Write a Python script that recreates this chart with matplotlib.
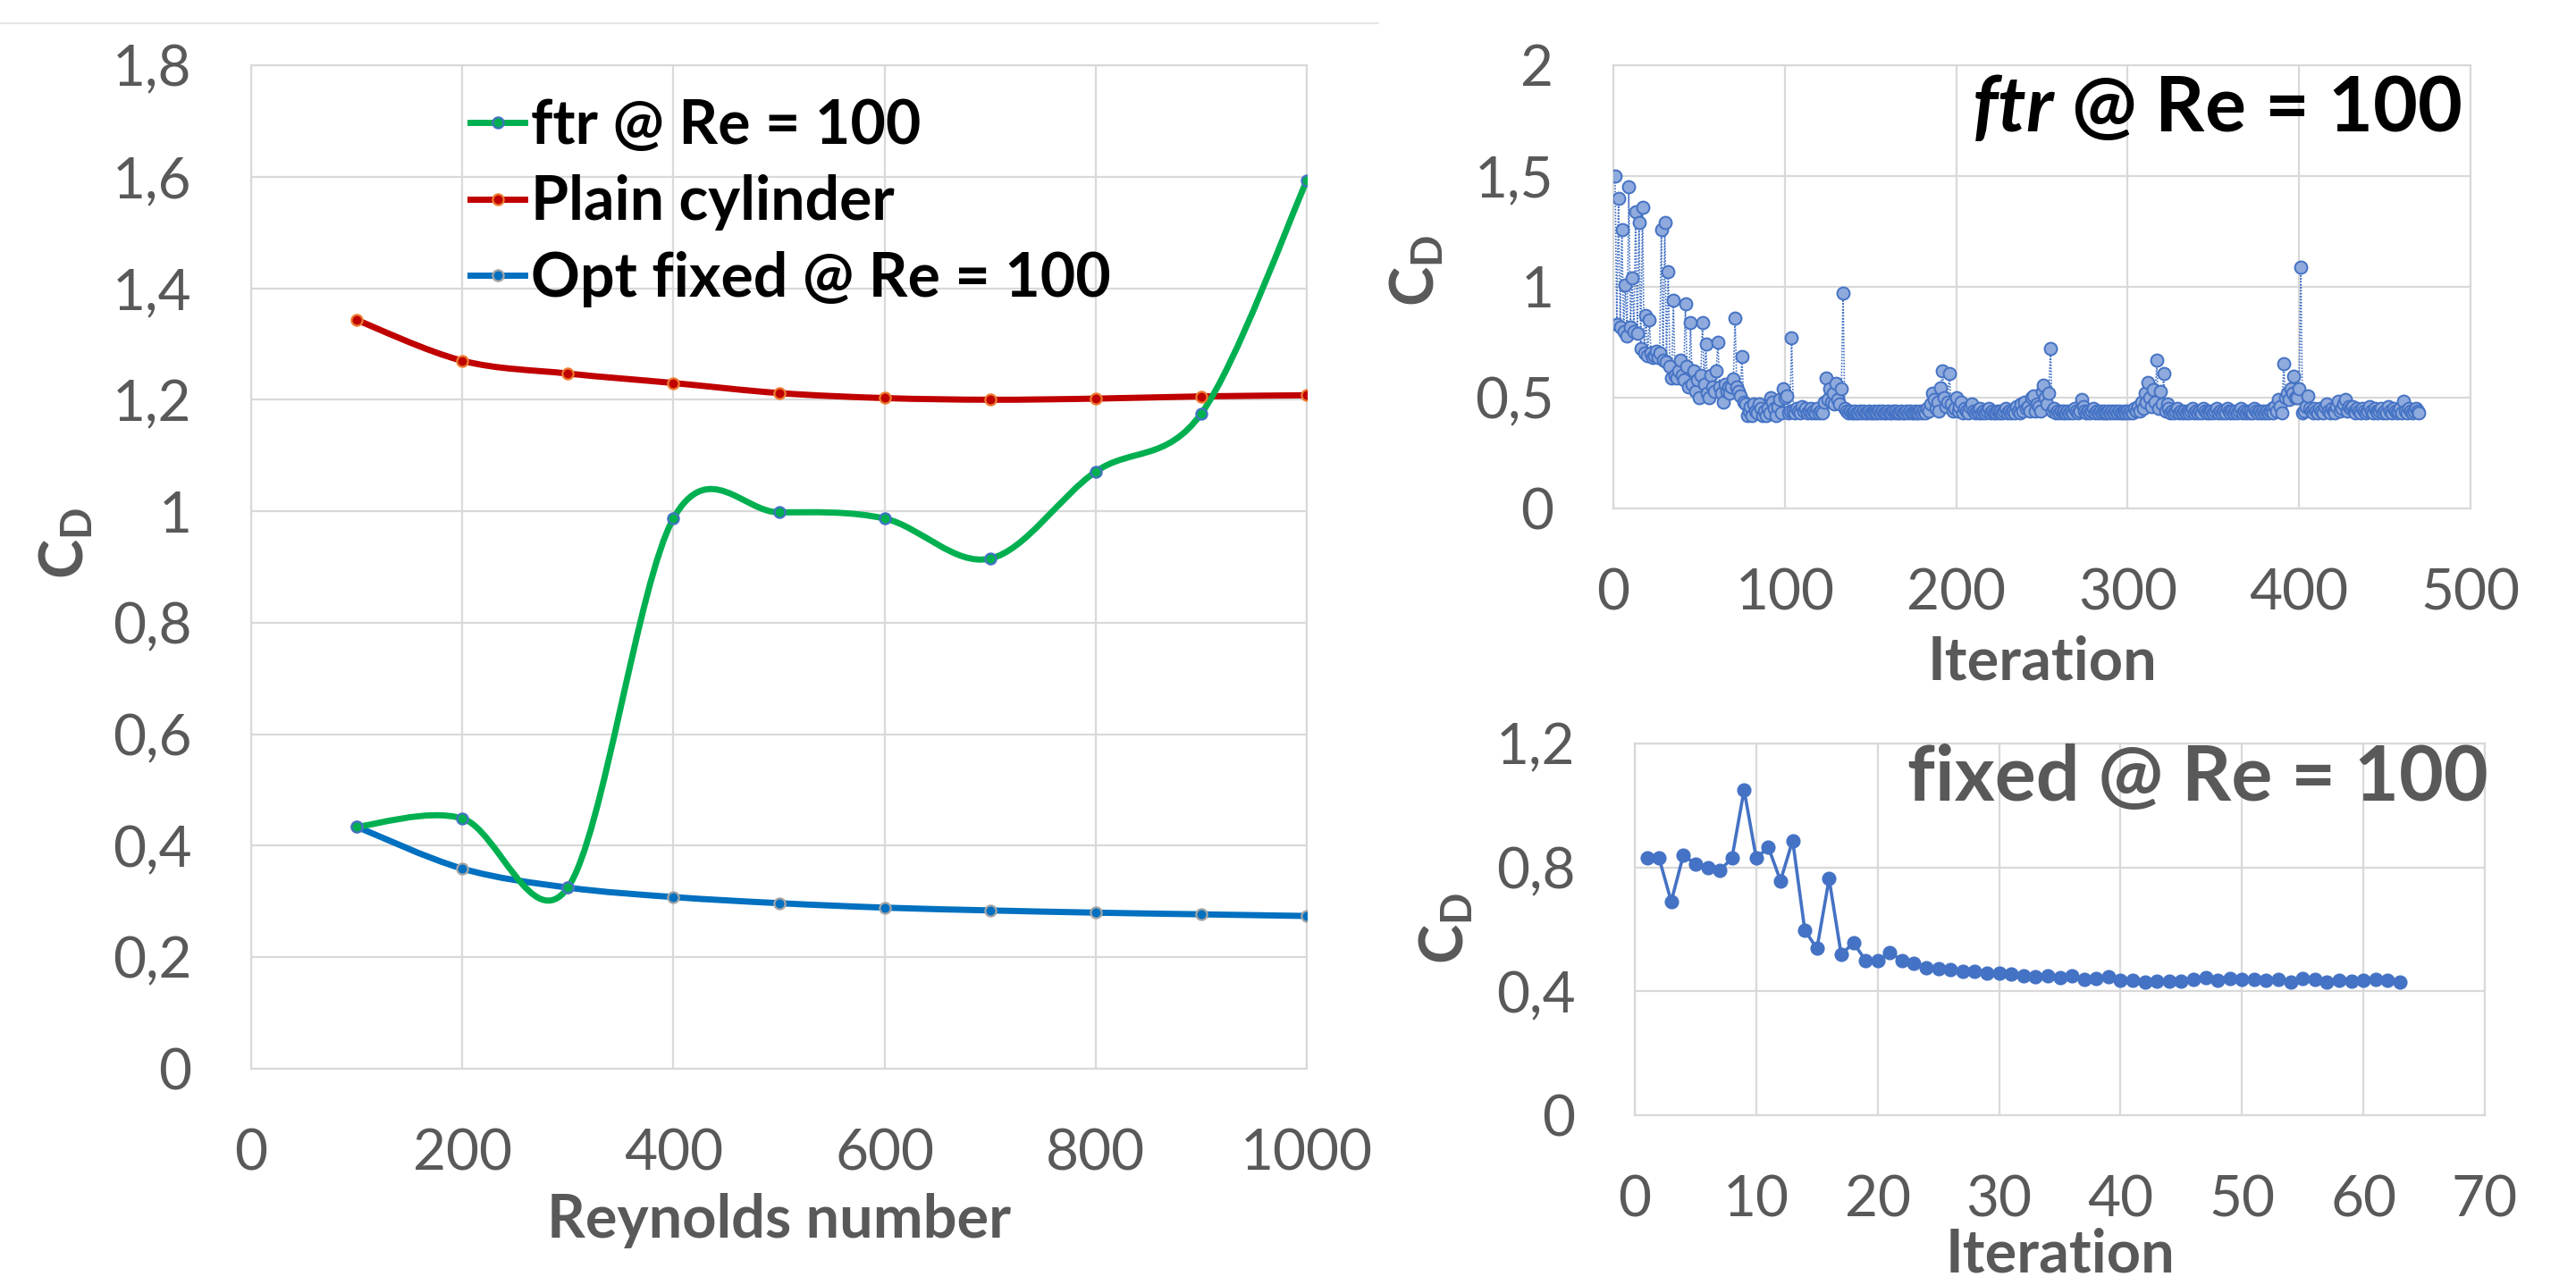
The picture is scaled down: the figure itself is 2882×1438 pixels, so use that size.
import numpy as np
import matplotlib
matplotlib.use("Agg")
import matplotlib.pyplot as plt
import matplotlib.ticker as ticker
from matplotlib.path import Path
from matplotlib.patches import PathPatch
from matplotlib.lines import Line2D
from matplotlib.font_manager import FontProperties

plt.rcParams["font.family"] = ["Lato", "DejaVu Sans"]
plt.rcParams["mathtext.fontset"] = "custom"
plt.rcParams["mathtext.rm"] = "Lato"
plt.rcParams["mathtext.bf"] = "Lato:bold"
plt.rcParams["mathtext.bfit"] = "Lato:italic:bold"

# ── data: left panel (CD vs Reynolds number) ─────────────────────────────────
reynolds = [100, 200, 300, 400, 500, 600, 700, 800, 900, 1000]
cd_ftr   = [0.434, 0.449, 0.325, 0.987, 0.998, 0.987, 0.915, 1.071, 1.175, 1.593]
cd_plain = [1.343, 1.270, 1.247, 1.230, 1.212, 1.203, 1.200, 1.202, 1.206, 1.208]
cd_fixed = [0.434, 0.359, 0.325, 0.308, 0.297, 0.289, 0.284, 0.280, 0.277, 0.274]

# ── data: top right (ftr optimisation history) ──────────────────────────────
ftr_hist = [
    1.50, 0.83, 1.40, 0.82, 1.26, 0.80, 1.01, 0.78, 1.45, 0.82,
    1.04, 0.80, 1.34, 0.79, 1.29, 0.72, 1.36, 0.70, 0.87, 0.69,
    0.85, 0.70, 0.68, 0.69, 0.71, 0.68, 0.70, 1.26, 0.67, 1.29,
    0.66, 1.07, 0.64, 0.59, 0.94, 0.60, 0.59, 0.62, 0.67, 0.60,
    0.58, 0.925, 0.64, 0.55, 0.84, 0.56, 0.62, 0.53, 0.58, 0.50,
    0.60, 0.84, 0.56, 0.74, 0.52, 0.50, 0.60, 0.55, 0.53, 0.62,
    0.75, 0.55, 0.52, 0.48, 0.56, 0.53, 0.55, 0.52, 0.55, 0.585,
    0.86, 0.55, 0.53, 0.51, 0.685, 0.48, 0.47, 0.42, 0.44, 0.46,
    0.42, 0.47, 0.44, 0.43, 0.47, 0.45, 0.42, 0.44, 0.42, 0.45,
    0.43, 0.50, 0.48, 0.45, 0.42, 0.46, 0.49, 0.43, 0.54, 0.50,
    0.51, 0.43, 0.44, 0.77, 0.44, 0.43, 0.45, 0.44, 0.43, 0.46,
    0.44, 0.45, 0.43, 0.44, 0.45, 0.43, 0.44, 0.43, 0.45, 0.43,
    0.44, 0.43, 0.48, 0.59, 0.49, 0.54, 0.48, 0.52, 0.47, 0.565,
    0.49, 0.47, 0.54, 0.97, 0.45, 0.44, 0.43, 0.44, 0.43, 0.43,
    0.44, 0.43, 0.43, 0.44, 0.43, 0.44, 0.43, 0.43, 0.44, 0.43,
    0.43, 0.44, 0.43, 0.43, 0.44, 0.43, 0.44, 0.43, 0.43, 0.44,
    0.43, 0.43, 0.44, 0.43, 0.44, 0.43, 0.43, 0.44, 0.43, 0.43,
    0.44, 0.43, 0.44, 0.43, 0.43, 0.44, 0.43, 0.43, 0.44, 0.43,
    0.44, 0.43, 0.45, 0.44, 0.47, 0.52, 0.49, 0.45, 0.48, 0.44,
    0.545, 0.62, 0.50, 0.46, 0.48, 0.61, 0.47, 0.44, 0.45, 0.50,
    0.44, 0.46, 0.48, 0.43, 0.45, 0.44, 0.43, 0.46, 0.47, 0.44,
    0.43, 0.44, 0.43, 0.45, 0.43, 0.44, 0.43, 0.44, 0.45, 0.43,
    0.44, 0.43, 0.43, 0.44, 0.43, 0.44, 0.43, 0.44, 0.45, 0.43,
    0.44, 0.43, 0.44, 0.43, 0.46, 0.44, 0.43, 0.47, 0.44, 0.48,
    0.45, 0.46, 0.44, 0.50, 0.51, 0.44, 0.47, 0.46, 0.44, 0.53,
    0.555, 0.50, 0.47, 0.52, 0.72, 0.44, 0.45, 0.43, 0.44, 0.43,
    0.44, 0.43, 0.44, 0.43, 0.44, 0.43, 0.44, 0.43, 0.45, 0.44,
    0.43, 0.44, 0.49, 0.46, 0.44, 0.43, 0.44, 0.43, 0.44, 0.45,
    0.43, 0.44, 0.43, 0.44, 0.43, 0.44, 0.43, 0.43, 0.44, 0.43,
    0.44, 0.43, 0.44, 0.43, 0.44, 0.43, 0.43, 0.44, 0.43, 0.44,
    0.43, 0.44, 0.43, 0.45, 0.44, 0.46, 0.44, 0.48, 0.45, 0.52,
    0.48, 0.57, 0.50, 0.46, 0.535, 0.48, 0.67, 0.45, 0.53, 0.47,
    0.61, 0.44, 0.47, 0.45, 0.43, 0.44, 0.43, 0.44, 0.45, 0.43,
    0.44, 0.43, 0.44, 0.43, 0.44, 0.43, 0.44, 0.45, 0.43, 0.44,
    0.43, 0.44, 0.43, 0.45, 0.44, 0.43, 0.44, 0.43, 0.44, 0.43,
    0.44, 0.45, 0.43, 0.44, 0.43, 0.44, 0.43, 0.45, 0.44, 0.43,
    0.44, 0.43, 0.44, 0.43, 0.44, 0.45, 0.43, 0.44, 0.43, 0.44,
    0.43, 0.44, 0.43, 0.45, 0.44, 0.43, 0.44, 0.43, 0.44, 0.43,
    0.44, 0.43, 0.44, 0.45, 0.43, 0.46, 0.44, 0.49, 0.46, 0.43,
    0.655, 0.50, 0.52, 0.49, 0.54, 0.52, 0.595, 0.50, 0.50, 0.54,
    1.09, 0.43, 0.44, 0.46, 0.51, 0.45, 0.44, 0.43, 0.45, 0.44,
    0.43, 0.45, 0.44, 0.43, 0.46, 0.47, 0.44, 0.43, 0.45, 0.44,
    0.43, 0.46, 0.485, 0.44, 0.45, 0.47, 0.49, 0.44, 0.46, 0.45,
    0.46, 0.44, 0.43, 0.45, 0.44, 0.43, 0.45, 0.44, 0.43, 0.44,
    0.46, 0.44, 0.43, 0.45, 0.44, 0.43, 0.44, 0.45, 0.43, 0.44,
    0.43, 0.46, 0.44, 0.43, 0.45, 0.44, 0.43, 0.44, 0.45, 0.43,
    0.485, 0.44, 0.43, 0.45, 0.44, 0.43, 0.44, 0.45, 0.44, 0.43,
]

# ── data: bottom right (fixed optimisation history) ─────────────────────────
fixed_hist = [
    0.83, 0.83, 0.69, 0.84, 0.81, 0.80, 0.79, 0.83, 1.05, 0.83,
    0.865, 0.757, 0.887, 0.597, 0.538, 0.763, 0.518, 0.557, 0.50, 0.50,
    0.525, 0.50, 0.49, 0.477, 0.473, 0.47, 0.463, 0.463, 0.459, 0.46,
    0.456, 0.451, 0.448, 0.451, 0.443, 0.451, 0.438, 0.441, 0.446, 0.435,
    0.437, 0.431, 0.434, 0.434, 0.434, 0.438, 0.444, 0.435, 0.441, 0.438,
    0.438, 0.435, 0.438, 0.431, 0.440, 0.438, 0.431, 0.435, 0.434, 0.437,
    0.438, 0.437, 0.431,
]

GRID  = "#D9D9D9"
TICK  = "#595959"
W, H  = 2882, 1438
DPI   = 200
TICK_FS  = 23
LABEL_FS = 24


def comma(v, pos):
    return f"{v:g}".replace(".", ",")


def excel_smooth(x, y):
    """Catmull-Rom style Bezier path, like Excel's 'smoothed line'."""
    p = np.column_stack([x, y]).astype(float)
    ext = np.vstack([p[0], p, p[-1]])
    verts = [p[0]]
    codes = [Path.MOVETO]
    for i in range(len(p) - 1):
        p0, p1, p2, p3 = ext[i], ext[i + 1], ext[i + 2], ext[i + 3]
        verts += [p1 + (p2 - p0) / 6, p2 - (p3 - p1) / 6, p2]
        codes += [Path.CURVE4] * 3
    return Path(verts, codes)


def style_axes(ax, pad=24):
    for s in ax.spines.values():
        s.set_color(GRID)
        s.set_linewidth(0.8)
    ax.grid(True, color=GRID, linewidth=0.8)
    ax.set_axisbelow(True)
    ax.tick_params(length=0, labelsize=TICK_FS, labelcolor=TICK, pad=pad)
    ax.yaxis.set_major_formatter(ticker.FuncFormatter(comma))


def put_labels(ax, xlab, xy, yxy):
    ax.set_xlabel(xlab, fontsize=LABEL_FS, fontweight="bold", color=TICK)
    ax.xaxis.set_label_coords(0.5, xy)
    ax.xaxis.label.set_va("center")
    ax.set_ylabel(r"$\mathbf{C_D}$", fontsize=LABEL_FS, color=TICK)
    ax.yaxis.set_label_coords(*yxy)
    ax.yaxis.label.set_va("center")


fig = plt.figure(figsize=(W / DPI, H / DPI), dpi=DPI)
fig.add_artist(Line2D([0, 0.535], [1 - 26 / H, 1 - 26 / H],
                      transform=fig.transFigure, color="#E6E6E6", lw=0.8))

# ── left panel ───────────────────────────────────────────────────────────────
ax = fig.add_axes([281 / W, 1 - 1196 / H, (1462 - 281) / W, (1196 - 73) / H])
style_axes(ax, pad=24)
ax.set_xlim(0, 1000)
ax.set_ylim(0, 1.8)
ax.xaxis.set_major_locator(ticker.MultipleLocator(200))
ax.yaxis.set_major_locator(ticker.MultipleLocator(0.2))

series = [
    (cd_ftr,   "#00B050", "#00B050", "#4472C4", "ftr @ Re = 100"),
    (cd_plain, "#C00000", "#C00000", "#ED7D31", "Plain cylinder"),
    (cd_fixed, "#0070C0", "#0070C0", "#A5A5A5", "Opt fixed @ Re = 100"),
]
for vals, lc, mfc, mec, lab in series[::-1]:
    ax.add_patch(PathPatch(excel_smooth(reynolds, vals), fill=False,
                           edgecolor=lc, lw=2.5, capstyle="round", zorder=3))
    ax.plot(reynolds, vals, "o", ms=4.4, mfc=mfc, mec=mec, mew=0.8, zorder=4)
handles = [Line2D([], [], color=lc, lw=2.5, marker="o", ms=4.4,
                  mfc=mfc, mec=mec, mew=0.8, label=lab)
           for vals, lc, mfc, mec, lab in series]
ax.legend(handles=handles, loc="upper left", bbox_to_anchor=(526 / W, 1 - 110 / H),
          bbox_transform=fig.transFigure, frameon=False,
          prop=FontProperties(family="Lato", weight="bold", size=24.5),
          handlelength=0.9, handletextpad=0.1, labelspacing=0.33,
          borderpad=0, borderaxespad=0)
put_labels(ax, "Reynolds number", -0.151, (-0.175, 0.524))

# ── top right: ftr history ──────────────────────────────────────────────────
ax2 = fig.add_axes([1805 / W, 1 - 569 / H, (2764 - 1805) / W, (569 - 73) / H])
style_axes(ax2, pad=24)
it_ftr = np.arange(1, len(ftr_hist) + 1)
ax2.plot(it_ftr, ftr_hist, color="#4472C4", lw=0.6, ls=(0, (1, 1)),
         marker="o", ms=5.0, mfc="#8FAADC", mec="#4472C4", mew=0.7, zorder=3)
ax2.set_xlim(0, 500)
ax2.set_ylim(0, 2)
ax2.xaxis.set_major_locator(ticker.MultipleLocator(100))
ax2.yaxis.set_major_locator(ticker.MultipleLocator(0.5))
put_labels(ax2, "Iteration", -0.347, (-0.229, 0.536))
ax2.text(0.989, 0.851, r"$\mathbfit{ftr}$ @ Re = 100", transform=ax2.transAxes,
         ha="right", va="baseline", fontsize=31, fontweight="bold", color="black")

# ── bottom right: fixed history ─────────────────────────────────────────────
ax3 = fig.add_axes([1829 / W, 1 - 1248 / H, (2780 - 1829) / W, (1248 - 832) / H])
style_axes(ax3, pad=24)
it_fixed = np.arange(1, len(fixed_hist) + 1)
ax3.plot(it_fixed, fixed_hist, color="#4472C4", lw=1.3,
         marker="o", ms=4.8, mfc="#4472C4", mec="#4472C4", zorder=3)
ax3.set_xlim(0, 70)
ax3.set_ylim(0, 1.2)
ax3.xaxis.set_major_locator(ticker.MultipleLocator(10))
ax3.yaxis.set_major_locator(ticker.MultipleLocator(0.4))
put_labels(ax3, "Iteration", -0.375, (-0.222, 0.502))
ax3.text(1.004, 0.846, "fixed @ Re = 100", transform=ax3.transAxes,
         ha="right", va="baseline", fontsize=31, fontweight="bold", color=TICK)

fig.savefig("out.png", dpi=DPI)
